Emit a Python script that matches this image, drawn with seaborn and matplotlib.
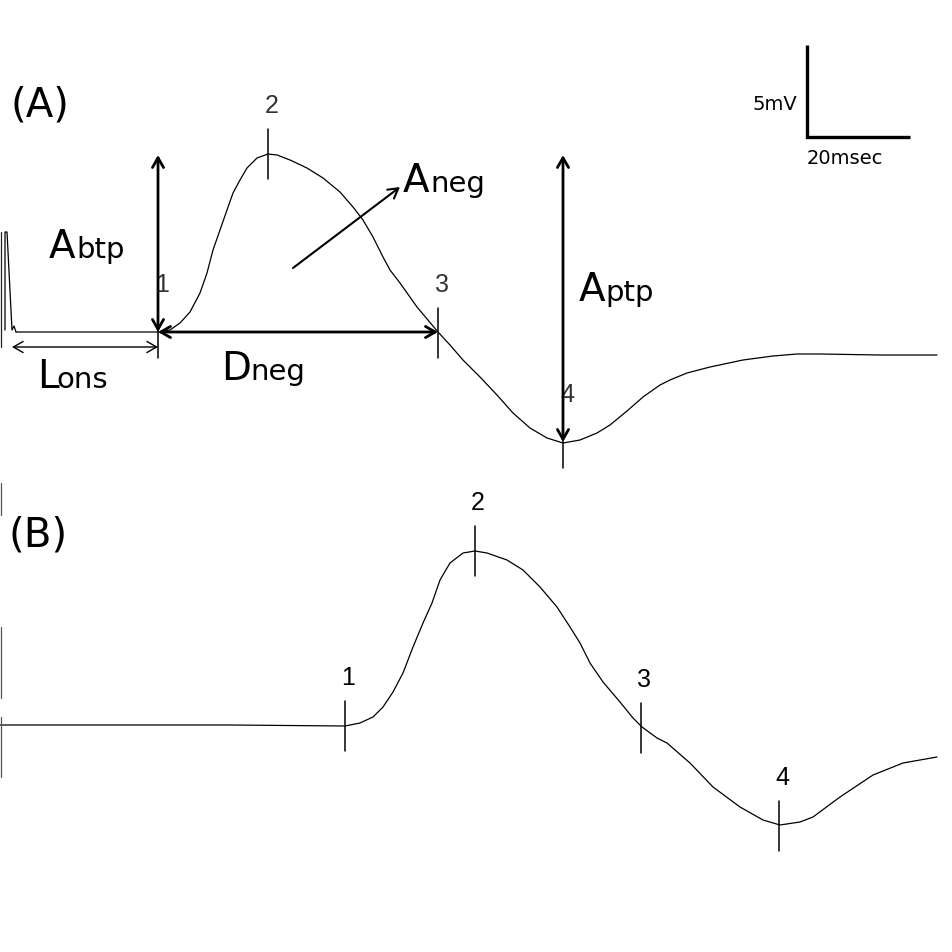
import matplotlib
matplotlib.use("Agg")
import matplotlib.pyplot as plt
import seaborn as sns
import pandas as pd

# ---- Trace values (picture units: x right, y down) ----
# Panel A: stimulus artefact + evoked response
artefact_a_x = [5, 5, 7, 12, 14, 16]
artefact_a_y = [330, 232, 232, 330, 326, 332]

trace_a_x = [16, 160, 170, 180, 190, 200, 207, 213, 220, 227, 233, 240, 247, 257,
             268, 277, 290, 307, 323, 340, 353, 363, 373, 383, 390, 400, 417,
             438, 450, 463, 480, 497, 513, 530, 547, 563, 580, 597, 610, 627,
             643, 660, 670, 687, 710, 743, 773, 797, 820, 880, 937]
trace_a_y = [332, 332, 330, 323, 312, 293, 273, 250, 230, 210, 193, 180, 168, 158,
             154, 155, 160, 168, 178, 192, 207, 220, 237, 257, 270, 283, 307,
             332, 345, 360, 377, 395, 413, 428, 438, 443, 440, 433, 425, 411,
             397, 385, 380, 373, 367, 360, 356, 354, 354, 355, 355]

# Panel B: evoked response
trace_b_x = [0, 230, 345, 360, 373, 383, 393, 403, 413, 423, 432, 440, 450, 463,
             475, 487, 507, 523, 540, 557, 570, 580, 590, 603, 620, 633, 642,
             657, 667, 690, 713, 740, 763, 780, 800, 813, 840, 873, 903, 937]
trace_b_y = [725, 725, 726, 723, 717, 707, 692, 673, 647, 623, 603, 580, 563, 553,
             551, 553, 560, 570, 587, 607, 627, 643, 663, 682, 702, 718, 727,
             738, 743, 763, 787, 807, 820, 825, 822, 817, 797, 775, 763, 757]

# Marker points (x of landmark, y of trace there)
marks_a = ["1", "2", "3", "4"]
marks_a_x = [158, 268, 438, 563]
marks_a_y = [333, 154, 333, 443]
marks_b = ["1", "2", "3", "4"]
marks_b_x = [345, 475, 641, 779]
marks_b_y = [726, 551, 728, 826]

# Scale bar values
scale_v_label = "5mV"
scale_t_label = "20msec"

# ---- Figure ----
sns.set_theme(style="white")
plt.rcParams["font.family"] = ["DejaVu Sans"]

fig = plt.figure(figsize=(9.53, 9.52), dpi=100)
ax = fig.add_axes([0, 0, 1, 1])
ax.set_xlim(0, 953)
ax.set_ylim(952, 0)
ax.axis("off")

line_kw = dict(color="black", lw=0.9, sort=False, estimator=None, ax=ax)
sns.lineplot(data=pd.DataFrame({"x": artefact_a_x, "y": artefact_a_y}), x="x", y="y", **line_kw)
sns.lineplot(data=pd.DataFrame({"x": trace_a_x, "y": trace_a_y}), x="x", y="y", **line_kw)
sns.lineplot(data=pd.DataFrame({"x": trace_b_x, "y": trace_b_y}), x="x", y="y", **line_kw)
ax.set_xlabel("")
ax.set_ylabel("")

# artefact vertical lines at left edge
ax.plot([1.5, 1.5], [232, 347], color="#222222", lw=0.9)
for y0, y1 in [(483, 515), (627, 698), (717, 777)]:
    ax.plot([1.5, 1.5], [y0, y1], color="#555555", lw=0.9)

# landmark ticks and numbers
num_font = ["Liberation Sans", "DejaVu Sans"]
for lab, x, y in zip(marks_a, marks_a_x, marks_a_y):
    ax.plot([x, x], [y - 25, y + 25], color="black", lw=1.1)
    ax.text(x + 4, y - 41, lab, ha="center", va="baseline", fontsize=18,
            color="#333333", family=num_font)
for lab, x, y in zip(marks_b, marks_b_x, marks_b_y):
    ax.plot([x, x], [y - 25, y + 25], color="black", lw=1.1)
    ax.text(x + 3, y - 41, lab, ha="center", va="baseline", fontsize=18,
            color="black", family=num_font)

# measurement arrows
def arrow(p0, p1, style, lw):
    ax.annotate("", xy=p1, xytext=p0,
                arrowprops=dict(arrowstyle=style + ",head_length=0.7,head_width=0.4",
                                lw=lw, color="black", shrinkA=0, shrinkB=0,
                                mutation_scale=10))

arrow((158, 332), (158, 155), "<->", 2.0)     # Abtp
arrow((158, 332), (438, 332), "<->", 2.0)     # Dneg
arrow((563, 442), (563, 155), "<->", 2.0)     # Aptp
arrow((12, 347), (158, 347), "<->", 1.0)      # Lons
arrow((293, 268), (400, 187), "->", 1.5)      # Aneg

# measurement labels: big capital + smaller rest
def label(x, y, big, small, xs):
    ax.text(x, y, big, fontsize=28, va="baseline", ha="left", color="black")
    ax.text(xs, y, small, fontsize=21, va="baseline", ha="left", color="black")

label(49, 258, "A", "btp", 76)
label(37, 388, "L", "ons", 56)
label(221, 380, "D", "neg", 250)
label(403, 192, "A", "neg", 430)
label(579, 301, "A", "ptp", 605)

# panel labels
ax.text(11, 117, "(A)", fontsize=29, va="baseline", ha="left", color="black")
ax.text(8, 546, "(B)", fontsize=29, va="baseline", ha="left", color="black")

# scale bar
ax.plot([807, 807, 910], [45, 137, 137], color="black", lw=2.4,
        solid_joinstyle="miter", solid_capstyle="butt")
ax.text(797, 105, scale_v_label, fontsize=14, ha="right", va="center", color="black")
ax.text(807, 158, scale_t_label, fontsize=14, ha="left", va="center", color="black")

fig.savefig("out.png", dpi=100)
